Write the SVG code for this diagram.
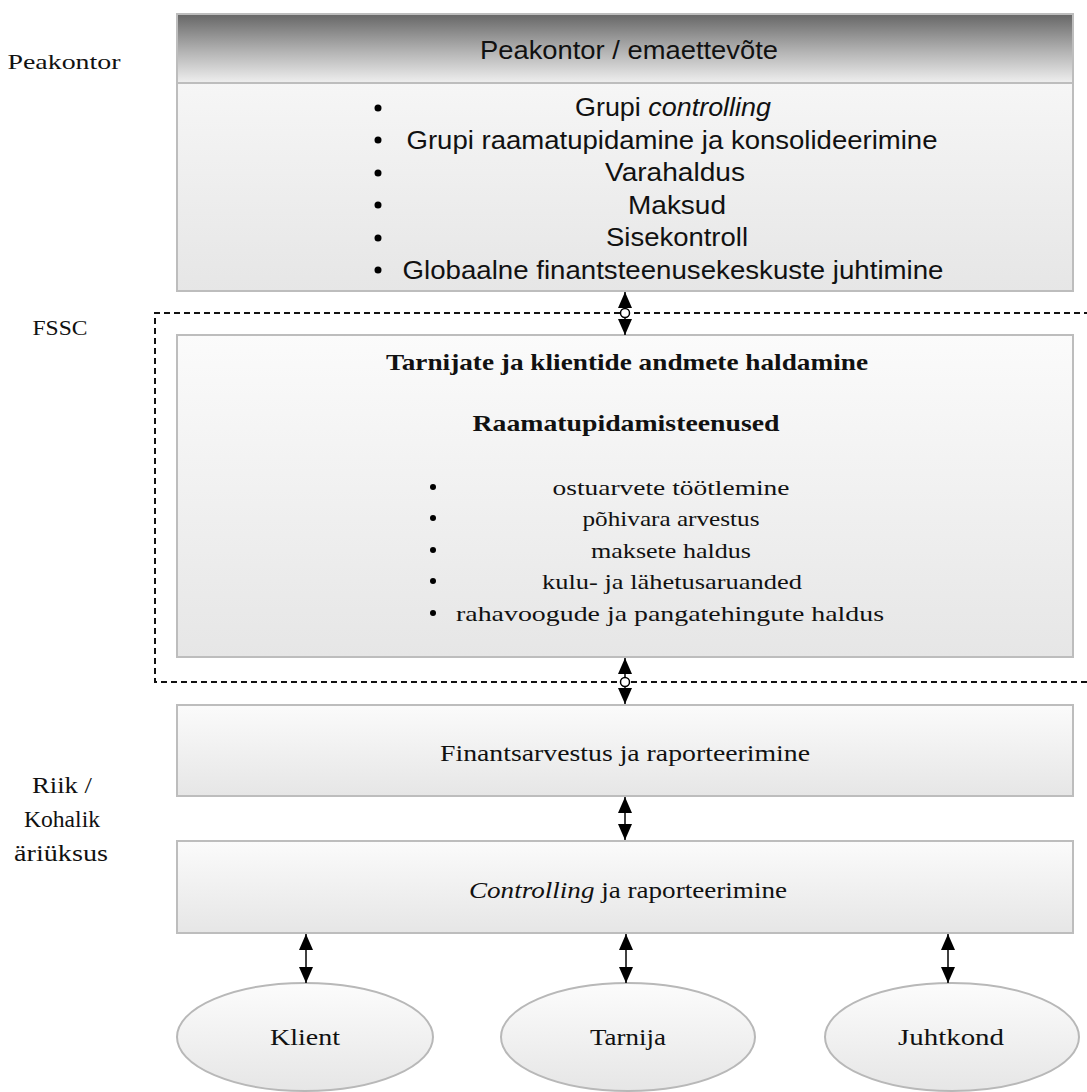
<svg xmlns="http://www.w3.org/2000/svg" width="1087" height="1092" viewBox="0 0 1087 1092">
<style>
.sans{font-family:"Liberation Sans",Arial,sans-serif;fill:#111;}
.serif{font-family:"Liberation Serif","Times New Roman",serif;fill:#111;}
.box{fill:url(#boxGrad);stroke:#bdbdbd;stroke-width:2;}
.ell{fill:url(#ellGrad);stroke:#b8b8b8;stroke-width:2;}
.conn{stroke:#000;stroke-width:1.5;fill:none;marker-start:url(#ah);marker-end:url(#ah);}
.knot{fill:#fff;stroke:#000;stroke-width:1.5;}
.dash{fill:none;stroke:#111;stroke-width:2;stroke-dasharray:6 4;}
</style>
<defs>
<linearGradient id="boxGrad" x1="0" y1="0" x2="0" y2="1">
<stop offset="0" stop-color="#fbfbfb"/>
<stop offset="1" stop-color="#e6e6e6"/>
</linearGradient>
<linearGradient id="headGrad" x1="0" y1="0" x2="0" y2="1">
<stop offset="0" stop-color="#666666"/>
<stop offset="0.55" stop-color="#b4b4b4"/>
<stop offset="1" stop-color="#efefef"/>
</linearGradient>
<linearGradient id="ellGrad" x1="0" y1="0" x2="0" y2="1">
<stop offset="0" stop-color="#fcfcfc"/>
<stop offset="1" stop-color="#e6e6e6"/>
</linearGradient>
<marker id="ah" viewBox="0 0 16 14" refX="16" refY="7" markerWidth="16" markerHeight="14" markerUnits="userSpaceOnUse" orient="auto-start-reverse">
<path d="M0,0 L16,7 L0,14 z" fill="#000"/>
</marker>
</defs>

<g id="labels">
<text class="serif" x="64" y="69" font-size="21" text-anchor="middle" textLength="113" lengthAdjust="spacingAndGlyphs">Peakontor</text>
<text class="serif" x="60" y="335" font-size="21" text-anchor="middle" textLength="55" lengthAdjust="spacingAndGlyphs">FSSC</text>
<text class="serif" x="62" y="793" font-size="23" text-anchor="middle" textLength="60" lengthAdjust="spacingAndGlyphs">Riik /</text>
<text class="serif" x="62" y="827" font-size="23" text-anchor="middle" textLength="76" lengthAdjust="spacingAndGlyphs">Kohalik</text>
<text class="serif" x="61" y="861" font-size="23" text-anchor="middle" textLength="94" lengthAdjust="spacingAndGlyphs">äriüksus</text>
</g>

<g id="fssc-boundary">
<path class="dash" d="M1090,313 L155,313 L155,682 L1090,682"/>
</g>

<g id="peakontor">
<rect class="box" x="177" y="14" width="896" height="277"/>
<rect x="177" y="14" width="896" height="69" fill="url(#headGrad)" stroke="#bdbdbd" stroke-width="2"/>
<text class="sans" x="629" y="59" font-size="26" text-anchor="middle" textLength="298" lengthAdjust="spacingAndGlyphs">Peakontor / emaettevõte</text>
<g fill="#000">
<circle cx="378" cy="108" r="3.5"/>
<circle cx="378" cy="140" r="3.5"/>
<circle cx="378" cy="173" r="3.5"/>
<circle cx="378" cy="205" r="3.5"/>
<circle cx="378" cy="238" r="3.5"/>
<circle cx="378" cy="270" r="3.5"/>
</g>
<text class="sans" x="673" y="116" font-size="25" text-anchor="middle" textLength="196" lengthAdjust="spacingAndGlyphs">Grupi <tspan font-style="italic">controlling</tspan></text>
<text class="sans" x="672" y="149" font-size="25" text-anchor="middle" textLength="531" lengthAdjust="spacingAndGlyphs">Grupi raamatupidamine ja konsolideerimine</text>
<text class="sans" x="675" y="181" font-size="25" text-anchor="middle" textLength="140" lengthAdjust="spacingAndGlyphs">Varahaldus</text>
<text class="sans" x="677" y="214" font-size="25" text-anchor="middle" textLength="98" lengthAdjust="spacingAndGlyphs">Maksud</text>
<text class="sans" x="677" y="246" font-size="25" text-anchor="middle" textLength="142" lengthAdjust="spacingAndGlyphs">Sisekontroll</text>
<text class="sans" x="673" y="279" font-size="25" text-anchor="middle" textLength="541" lengthAdjust="spacingAndGlyphs">Globaalne finantsteenusekeskuste juhtimine</text>
</g>

<g id="fssc">
<rect class="box" x="177" y="335" width="896" height="322"/>
<text class="serif" x="627" y="370" font-size="23" font-weight="bold" text-anchor="middle" textLength="482" lengthAdjust="spacingAndGlyphs">Tarnijate ja klientide andmete haldamine</text>
<text class="serif" x="626" y="431" font-size="23" font-weight="bold" text-anchor="middle" textLength="307" lengthAdjust="spacingAndGlyphs">Raamatupidamisteenused</text>
<g fill="#000">
<circle cx="433" cy="487" r="3"/>
<circle cx="433" cy="518" r="3"/>
<circle cx="433" cy="550" r="3"/>
<circle cx="433" cy="581" r="3"/>
<circle cx="433" cy="613" r="3"/>
</g>
<text class="serif" x="671" y="495" font-size="22" text-anchor="middle" textLength="237" lengthAdjust="spacingAndGlyphs">ostuarvete töötlemine</text>
<text class="serif" x="671" y="526" font-size="22" text-anchor="middle" textLength="177" lengthAdjust="spacingAndGlyphs">põhivara arvestus</text>
<text class="serif" x="671" y="558" font-size="22" text-anchor="middle" textLength="160" lengthAdjust="spacingAndGlyphs">maksete haldus</text>
<text class="serif" x="672" y="589" font-size="22" text-anchor="middle" textLength="260" lengthAdjust="spacingAndGlyphs">kulu- ja lähetusaruanded</text>
<text class="serif" x="670" y="621" font-size="22" text-anchor="middle" textLength="428" lengthAdjust="spacingAndGlyphs">rahavoogude ja pangatehingute haldus</text>
</g>

<g id="finantsarvestus">
<rect class="box" x="177" y="705" width="896" height="91"/>
<text class="serif" x="625" y="761" font-size="23" text-anchor="middle" textLength="370" lengthAdjust="spacingAndGlyphs">Finantsarvestus ja raporteerimine</text>
</g>

<g id="controlling">
<rect class="box" x="177" y="841" width="896" height="92"/>
<text class="serif" x="628" y="898" font-size="23" text-anchor="middle" textLength="318" lengthAdjust="spacingAndGlyphs"><tspan font-style="italic">Controlling</tspan> ja raporteerimine</text>
</g>

<g id="klient">
<ellipse class="ell" cx="305" cy="1037" rx="128" ry="54"/>
<text class="serif" x="305" y="1045" font-size="23" text-anchor="middle" textLength="70" lengthAdjust="spacingAndGlyphs">Klient</text>
</g>
<g id="tarnija">
<ellipse class="ell" cx="628" cy="1037" rx="127" ry="54"/>
<text class="serif" x="628" y="1045" font-size="23" text-anchor="middle" textLength="76" lengthAdjust="spacingAndGlyphs">Tarnija</text>
</g>
<g id="juhtkond">
<ellipse class="ell" cx="952" cy="1037" rx="127" ry="54"/>
<text class="serif" x="951" y="1045" font-size="23" text-anchor="middle" textLength="106" lengthAdjust="spacingAndGlyphs">Juhtkond</text>
</g>

<g id="connectors">
<line class="conn" x1="625" y1="292" x2="625" y2="335"/>
<circle class="knot" cx="625" cy="313" r="4.5"/>
<line class="conn" x1="625" y1="658" x2="625" y2="704"/>
<circle class="knot" cx="625" cy="682" r="4.5"/>
<line class="conn" x1="625" y1="797" x2="625" y2="840"/>
<line class="conn" x1="306" y1="934" x2="306" y2="983"/>
<line class="conn" x1="626" y1="934" x2="626" y2="983"/>
<line class="conn" x1="948" y1="934" x2="948" y2="983"/>
</g>
</svg>
